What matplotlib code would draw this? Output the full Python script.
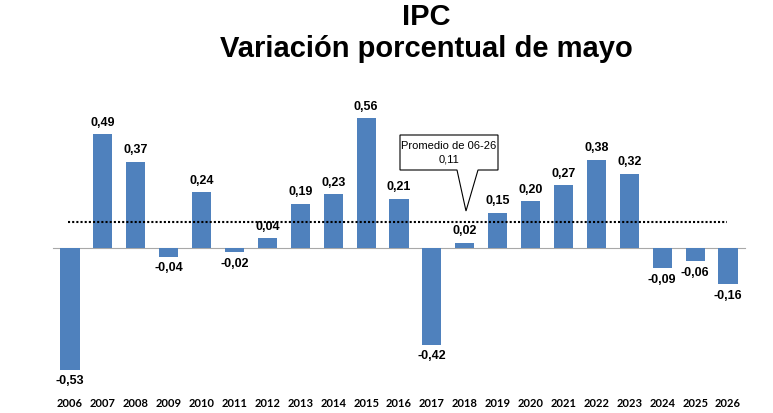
import matplotlib
matplotlib.use("Agg")
from matplotlib import pyplot as plt
from matplotlib.patches import Polygon

years = [str(y) for y in range(2006, 2027)]
values = [-0.53, 0.49, 0.37, -0.04, 0.24, -0.02, 0.04, 0.19, 0.23, 0.56, 0.21,
          -0.42, 0.02, 0.15, 0.20, 0.27, 0.38, 0.32, -0.09, -0.06, -0.16]
promedio = 0.11

W, H = 773, 413
fig = plt.figure(figsize=(W / 100, H / 100), dpi=100)

# pixel -> data helpers (bar 0 sits at px 70, step 32.9 px; zero at py 247.5, 231 px per unit)
x0, dx = 70, 32.9
y0, dy = 247.5, 231
ax_top, ax_bot = 90, 392
ax = fig.add_axes([0, 1 - ax_bot / H, 1, (ax_bot - ax_top) / H])
ax.set_xlim(-x0 / dx, (W - x0) / dx)
ax.set_ylim((y0 - ax_bot) / dy, (y0 - ax_top) / dy)

def px(x):
    return (x - x0) / dx

def py(y):
    return (y0 - y) / dy

xs = list(range(len(years)))
ax.bar(xs, values, width=0.58, color="#4F81BD", zorder=2)

ax.plot([px(53), px(745)], [0, 0], color="#a8a8a8", lw=0.8, zorder=1)
ax.plot([px(68), px(727)], [promedio, promedio], color="black", lw=1.5,
        linestyle=(0, (1, 1)), zorder=3)

for x, v in zip(xs, values):
    lab = f"{v:.2f}".replace(".", ",")
    if v >= 0:
        ax.annotate(lab, (x, v), xytext=(0, 4), textcoords="offset points",
                    ha="center", va="bottom", fontsize=9, fontweight="bold",
                    family="Liberation Sans")
    else:
        ax.annotate(lab, (x, v), xytext=(0, -4), textcoords="offset points",
                    ha="center", va="top", fontsize=9, fontweight="bold",
                    family="Liberation Sans")

# callout box for the average
pts = [(400, 135), (498, 135), (498, 170), (478, 170), (466, 211), (457, 170), (400, 170)]
ax.add_patch(Polygon([(px(a), py(b)) for a, b in pts], closed=True,
                     facecolor="white", edgecolor="black", lw=0.8, zorder=4))
ax.text(px(449), py(146), "Promedio de 06-26", ha="center", va="center",
        fontsize=8, family="Liberation Sans", zorder=5)
ax.text(px(449), py(160), f"{promedio:.2f}".replace(".", ","), ha="center",
        va="center", fontsize=8, family="Liberation Sans", zorder=5)

ax.set_xticks(xs)
ax.set_xticklabels(years, fontsize=8, fontweight="bold", family="Lato")
ax.tick_params(axis="x", length=0, pad=4)
ax.set_yticks([])
for s in ax.spines.values():
    s.set_visible(False)

fig.text(426 / W, 1 - 17 / H, "IPC", ha="center", va="center", fontsize=21,
         fontweight="bold", family="Liberation Sans")
fig.text(426 / W, 1 - 49 / H, "Variación porcentual de mayo", ha="center",
         va="center", fontsize=21, fontweight="bold", family="Liberation Sans")

fig.savefig("out.png", dpi=100)
